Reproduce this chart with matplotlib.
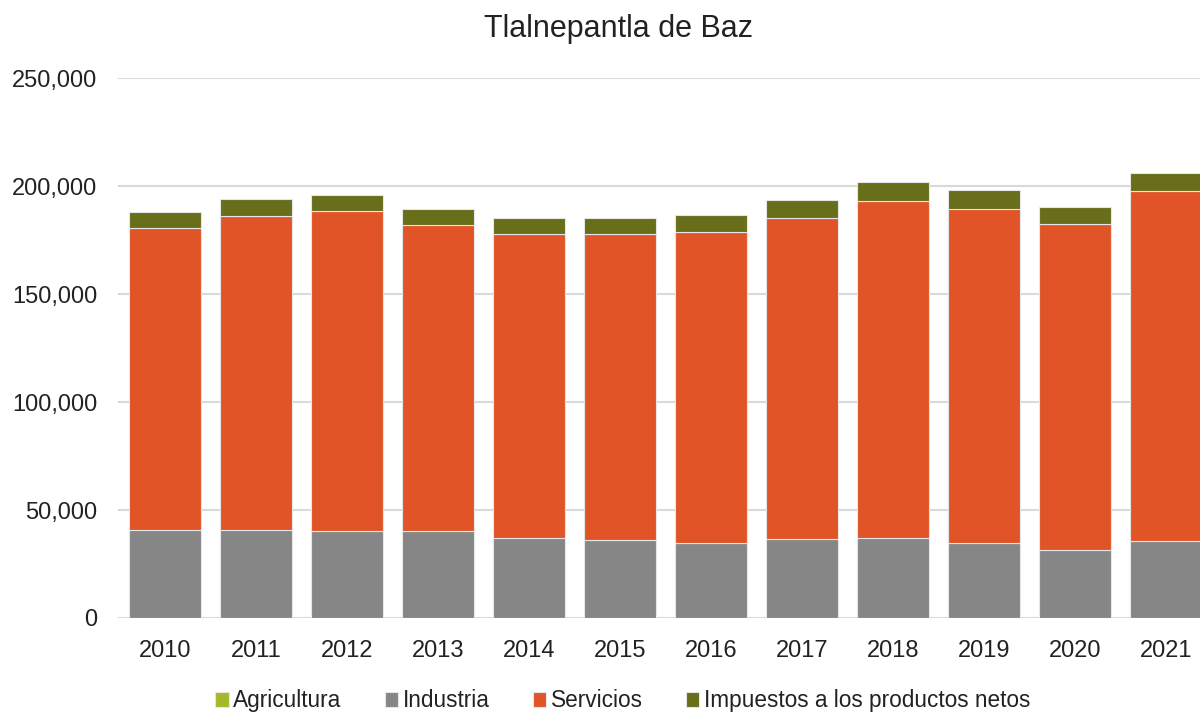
import matplotlib.pyplot as plt
import numpy as np
from matplotlib.ticker import FuncFormatter

years = ['2010', '2011', '2012', '2013', '2014', '2015',
         '2016', '2017', '2018', '2019', '2020', '2021']
agricultura = [200, 200, 200, 200, 200, 200, 200, 200, 200, 200, 200, 200]
industria = [40500, 40400, 40100, 40100, 36700, 35800,
             34400, 36200, 36800, 34400, 31100, 35400]
servicios = [139700, 145400, 148000, 141500, 140900, 141600,
             144000, 148600, 156000, 154900, 151200, 161900]
impuestos = [7600, 7800, 7700, 7600, 7400, 7600,
             7800, 8500, 8700, 8800, 7800, 8700]

colors = ['#a6b82a', '#868686', '#e05427', '#686e19']
labels = ['Agricultura', 'Industria', 'Servicios', 'Impuestos a los productos netos']

plt.rcParams['font.family'] = ['Liberation Sans', 'DejaVu Sans']

fig = plt.figure(figsize=(12, 7.13), dpi=100)
ax = fig.add_axes([118 / 1200, 95 / 713, (1200 - 118) / 1200, 540 / 713])

x = np.arange(len(years))
width = 0.8
bottom = np.zeros(len(years))
for vals, c, lab in zip([agricultura, industria, servicios, impuestos], colors, labels):
    ax.bar(x, vals, width, bottom=bottom, color=c, label=lab,
           edgecolor='#e6e6e6', linewidth=0.8, zorder=3)
    bottom += np.array(vals)

ax.set_xlim(-0.516, 11.374)
ax.set_ylim(0, 250000)
ax.set_yticks(range(0, 250001, 50000))
ax.yaxis.set_major_formatter(FuncFormatter(lambda v, p: f'{int(v):,}'))
ax.set_xticks(x)
ax.set_xticklabels(years)
ax.tick_params(axis='both', length=0, labelsize=17, colors='#222222')
ax.tick_params(axis='x', pad=16)
ax.tick_params(axis='y', pad=15)
ax.grid(axis='y', color='#d9d9d9', linewidth=1.5, zorder=0)
for s in ax.spines.values():
    s.set_visible(False)

fig.text(0.515, 0.96, 'Tlalnepantla de Baz', ha='center', va='center',
         fontsize=22, color='#222222')

fig.legend(loc='center', bbox_to_anchor=(0.519, 0.017), ncol=4, frameon=False,
           fontsize=16.3, handlelength=0.6, handleheight=0.6, handletextpad=0.2,
           columnspacing=1.9, labelcolor='#222222')

fig.savefig('out.png', dpi=100)
